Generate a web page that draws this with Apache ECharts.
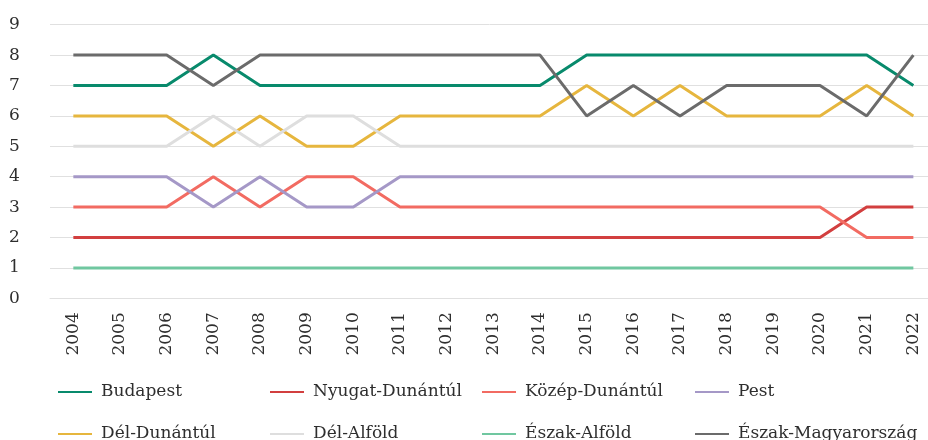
<!DOCTYPE html>
<html>
<head>
<meta charset="utf-8">
<script src="https://cdn.jsdelivr.net/npm/echarts@6/dist/echarts.min.js"></script>
<style>html,body{margin:0;padding:0;background:#fff;}#c{width:928px;height:440px;}</style>
</head>
<body>
<div id="c"></div>
<script>
const years = ['2004','2005','2006','2007','2008','2009','2010','2011','2012','2013','2014','2015','2016','2017','2018','2019','2020','2021','2022'];
const yTicks = [0,1,2,3,4,5,6,7,8,9];
const names = ['Budapest','Nyugat-Dunántúl','Közép-Dunántúl','Pest','Dél-Dunántúl','Dél-Alföld','Észak-Alföld','Észak-Magyarország'];
const budapest        = [7,7,7,8,7,7,7,7,7,7,7,8,8,8,8,8,8,8,7];
const nyugatDunantul  = [2,2,2,2,2,2,2,2,2,2,2,2,2,2,2,2,2,3,3];
const kozepDunantul   = [3,3,3,4,3,4,4,3,3,3,3,3,3,3,3,3,3,2,2];
const pest            = [4,4,4,3,4,3,3,4,4,4,4,4,4,4,4,4,4,4,4];
const delDunantul     = [6,6,6,5,6,5,5,6,6,6,6,7,6,7,6,6,6,7,6];
const delAlfold       = [5,5,5,6,5,6,6,5,5,5,5,5,5,5,5,5,5,5,5];
const eszakAlfold     = [1,1,1,1,1,1,1,1,1,1,1,1,1,1,1,1,1,1,1];
const eszakMagyar     = [8,8,8,7,8,8,8,8,8,8,8,6,7,6,7,7,7,6,8];
const seriesData = [budapest,nyugatDunantul,kozepDunantul,pest,delDunantul,delAlfold,eszakAlfold,eszakMagyar];
const colors = ['#088a6c','#d23f3f','#f26b62','#a598c7','#e6b63e','#dedede','#70c7a0','#6b6b6b'];

const font = 'DejaVu Serif';
const txt = '#2e2e2e';
const colX = [58,270,482,695];
const rowY = [382,424];
const legends = names.map((n,i)=>({
  orient:'horizontal', left:colX[i%4], top:rowY[Math.floor(i/4)], padding:0,
  itemWidth:34, itemHeight:2, icon:'rect',
  data:[n],
  textStyle:{fontFamily:font, fontSize:17, color:txt, lineHeight:20, padding:[0,0,0,4]}
}));

const chart = echarts.init(document.getElementById('c'), null, {renderer:'canvas'});
chart.setOption({
  animation:false,
  color:colors,
  grid:{left:50, top:24.7, height:273.6, width:886.7, outerBoundsMode:'none', containLabel:false},
  legend:legends,
  xAxis:{type:'category', data:years, boundaryGap:true,
    axisLine:{show:true, lineStyle:{color:'#e0e0e0'}}, axisTick:{show:false},
    axisLabel:{rotate:90, margin:14, fontFamily:font, fontSize:17, color:txt, interval:0}},
  yAxis:{type:'value', min:yTicks[0], max:yTicks[yTicks.length-1], interval:1,
    axisLine:{show:false}, axisTick:{show:false},
    splitLine:{lineStyle:{color:'#e0e0e0', width:1}},
    axisLabel:{align:'left', margin:41, fontFamily:font, fontSize:17, color:txt}},
  series: names.map((n,i)=>({
    name:n, type:'line', data:seriesData[i], symbol:'none', showSymbol:false,
    lineStyle:{width:3, color:colors[i]}, itemStyle:{color:colors[i]}
  }))
});
</script>
</body>
</html>
